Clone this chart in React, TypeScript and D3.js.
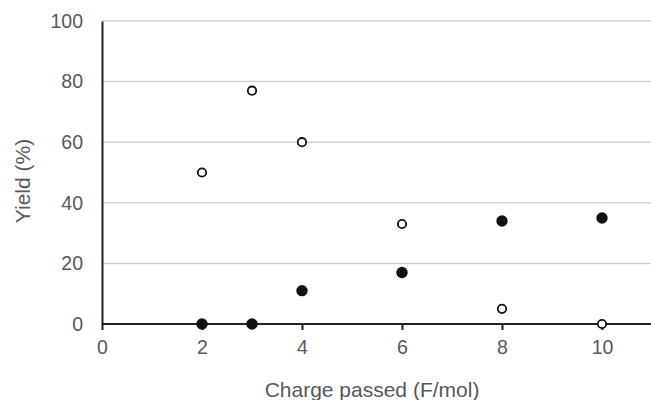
import React, { useEffect, useRef } from "react";
import * as d3 from "d3";

// charge passed (F/mol)
const chargeOpen = [2, 3, 4, 6, 8, 10];
const yieldOpen = [50, 77, 60, 33, 5, 0];
const chargeFilled = [2, 3, 4, 6, 8, 10];
const yieldFilled = [0, 0, 11, 17, 34, 35];
const xTicks = [0, 2, 4, 6, 8, 10];
const yTicks = [0, 20, 40, 60, 80, 100];

const App = () => {
  const ref = useRef<SVGSVGElement>(null);

  useEffect(() => {
    const width = 651;
    const height = 400;
    const margin = { top: 21, right: 0, bottom: 76, left: 102 };

    const x = d3.scaleLinear().domain([0, 10.98]).range([margin.left, width - margin.right]);
    const y = d3.scaleLinear().domain([0, 100]).range([height - margin.bottom, margin.top]);

    const svg = d3.select(ref.current);
    svg.selectAll("*").remove();

    const font = "'Liberation Sans', Arial, sans-serif";
    const textColor = "#595959";

    // gridlines
    svg
      .append("g")
      .selectAll("line")
      .data(yTicks.filter((d) => d > 0))
      .enter()
      .append("line")
      .attr("x1", margin.left)
      .attr("x2", width)
      .attr("y1", (d) => y(d))
      .attr("y2", (d) => y(d))
      .attr("stroke", "#d0d0d0")
      .attr("stroke-width", 1.5);

    // x axis
    const xAxis = svg
      .append("g")
      .attr("transform", `translate(0, ${y(0)})`)
      .call(d3.axisBottom(x).tickValues(xTicks).tickSize(6).tickPadding(10).tickFormat(d3.format("d")));
    xAxis.select(".domain").attr("stroke", "#222").attr("stroke-width", 2).attr("d", `M${margin.left},0H${width}`);
    xAxis.selectAll(".tick line").attr("stroke", "#222").attr("stroke-width", 2);
    xAxis
      .selectAll("text")
      .style("font-family", font)
      .style("font-size", "19.5px")
      .style("fill", textColor);

    // y axis
    const yAxis = svg
      .append("g")
      .attr("transform", `translate(${margin.left}, 0)`)
      .call(d3.axisLeft(y).tickValues(yTicks).tickSize(0).tickPadding(19));
    yAxis.select(".domain").attr("stroke", "#222").attr("stroke-width", 2);
    yAxis
      .selectAll("text")
      .style("font-family", font)
      .style("font-size", "19.5px")
      .style("fill", textColor);

    // axis titles
    svg
      .append("text")
      .attr("x", 372)
      .attr("y", 397)
      .attr("text-anchor", "middle")
      .style("font-family", font)
      .style("font-size", "21px")
      .style("fill", textColor)
      .text("Charge passed (F/mol)");

    svg
      .append("text")
      .attr("transform", `translate(30, 181) rotate(-90)`)
      .attr("text-anchor", "middle")
      .style("font-family", font)
      .style("font-size", "21px")
      .style("fill", textColor)
      .text("Yield (%)");

    // open circles
    svg
      .append("g")
      .selectAll("circle")
      .data(chargeOpen.map((c, i) => ({ c, v: yieldOpen[i] })))
      .enter()
      .append("circle")
      .attr("cx", (d) => x(d.c))
      .attr("cy", (d) => y(d.v))
      .attr("r", 4.2)
      .attr("fill", "#fff")
      .attr("stroke", "#111")
      .attr("stroke-width", 1.8);

    // filled circles
    svg
      .append("g")
      .selectAll("circle")
      .data(chargeFilled.map((c, i) => ({ c, v: yieldFilled[i] })))
      .enter()
      .append("circle")
      .attr("cx", (d) => x(d.c))
      .attr("cy", (d) => y(d.v))
      .attr("r", 5.7)
      .attr("fill", "#111");
  }, []);

  return (
    <svg
      ref={ref}
      width={651}
      height={400}
      style={{ position: "absolute", left: 0, top: 0, background: "#fff" }}
    />
  );
};

export default App;
